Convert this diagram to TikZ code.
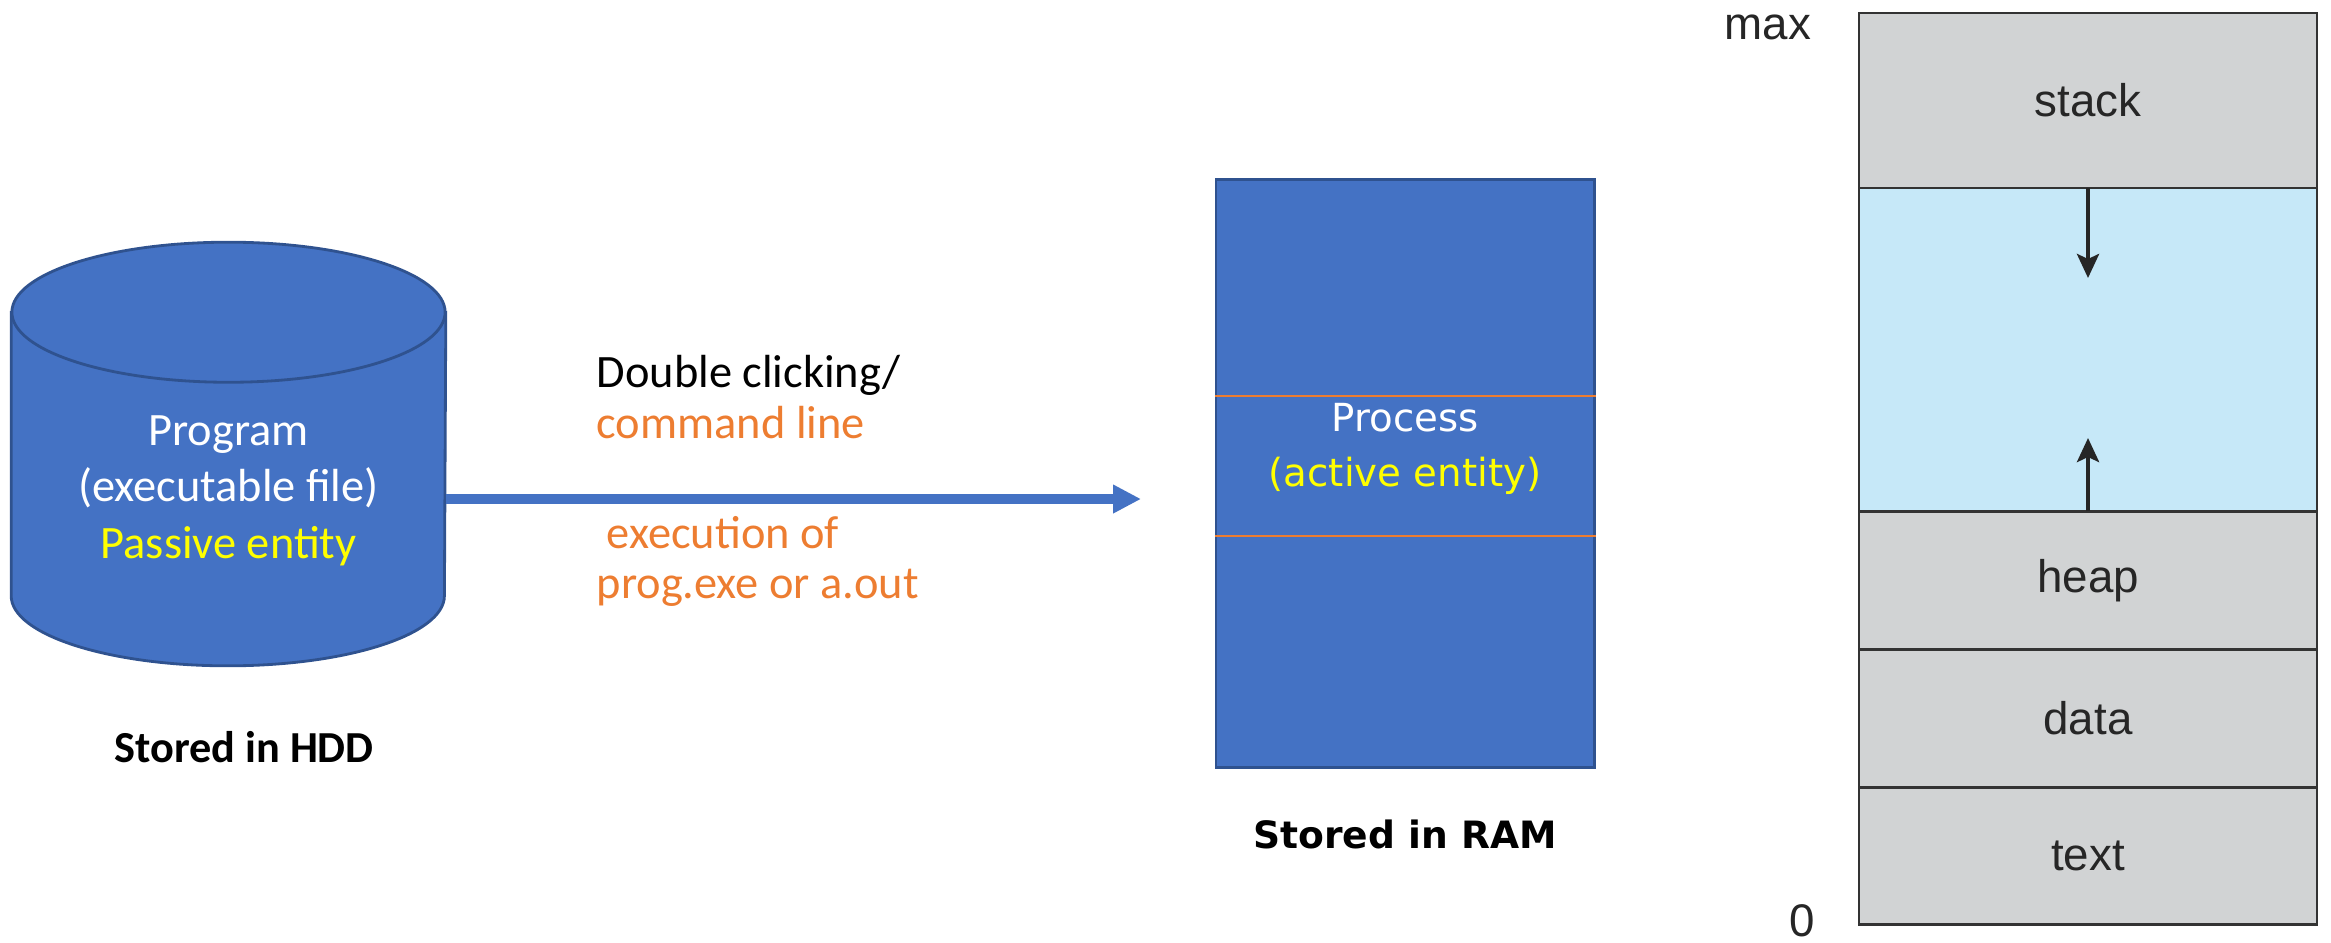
\documentclass[tikz,border=0pt]{standalone}
\usepackage{fontspec}
\usepackage{xcolor}
\usetikzlibrary{calc,positioning,arrows.meta}

\newfontfamily\calib{Carlito}
\newfontfamily\verda{DejaVu Sans}
\newfontfamily\helv{Liberation Sans}

\definecolor{pptblue}{HTML}{4472C4}
\definecolor{pptdark}{HTML}{2F528F}
\definecolor{pptorange}{HTML}{ED7D31}
\definecolor{pptyellow}{HTML}{FFFF00}
\definecolor{memgray}{HTML}{D1D3D4}
\definecolor{memblue}{HTML}{C6E8F8}
\definecolor{memline}{HTML}{333333}

\tikzset{
  txt/.style={inner sep=0pt, anchor=base},
  lbl/.style={inner sep=0pt, anchor=base west, font=\calib\fontsize{13.2}{15.5}\selectfont},
  disk/.style={fill=pptblue, draw=pptdark, line width=0.8pt},
  ramblock/.style={fill=pptblue, draw=pptdark, line width=0.8pt, minimum width=3.78cm, minimum height=5.87cm, inner sep=0pt},
  flow/.style={draw=pptblue, line width=3pt, -{Triangle[length=2.8mm,width=2.7mm]}},
  seg/.style={draw=memline, line width=0.75pt, fill=memgray, minimum width=4.58cm, inner sep=0pt, outer sep=0pt, font=\helv\fontsize{13}{15}\selectfont, text=black!85},
  growarrow/.style={draw=black!85, line width=1.2pt, -{Stealth[length=2.4mm,width=2.2mm,inset=0.5mm]}},
  axis/.style={inner sep=0pt, font=\helv\fontsize{13}{15}\selectfont, text=black!85}
}

\begin{document}
\begin{tikzpicture}[x=0.01cm,y=0.01cm]
  \useasboundingbox (0,0) rectangle (2331,-942);

  %program on the disk
  \node[minimum width=4.33cm, minimum height=2.82cm, inner sep=0pt] (hdd) at (228.5,-454) {};
  \filldraw[disk] (hdd.north west) -- (hdd.south west)
     arc[start angle=180, end angle=360, x radius=2.165cm, y radius=0.7cm] -- (hdd.north east) -- cycle;
  \filldraw[disk] (hdd.north) ellipse[x radius=2.165cm, y radius=0.7cm];
  \node[txt, align=center, text=white, font=\calib\fontsize{13.2}{16}\selectfont] (prog) at (228.5,-558)
     {Program\\(executable file)\\\textcolor{pptyellow}{Passive entity}};
  \node[txt, font=\calib\bfseries\fontsize{12.6}{15}\selectfont] (hddlbl) at (244,-762) {Stored in HDD};

  %process in memory
  \node[ramblock] (ram) at (1405,-473.5) {};
  \draw[pptorange, line width=0.6pt] (ram.west |- 0,-396) -- (ram.east |- 0,-396);
  \draw[pptorange, line width=0.6pt] (ram.west |- 0,-536) -- (ram.east |- 0,-536);
  \node[txt, align=center, text=white, font=\verda\fontsize{11}{15.4}\selectfont] (proc) at (1405,-486)
     {Process\\\textcolor{pptyellow}{(active entity)}};
  \node[txt, font=\verda\bfseries\fontsize{10.7}{13}\selectfont] (ramlbl) at (1405,-848) {Stored in RAM};

  %loading
  \coordinate (arrE) at (1141,-499);
  \draw[flow] (hdd.east |- arrE) -- (arrE);
  \node[lbl] (dbl) at (596,-387) {Double clicking/};
  \node[lbl, text=pptorange] (cmd) at (596,-438) {command line};
  \node[lbl, text=pptorange] (exe) at (606,-548) {execution of};
  \node[lbl, text=pptorange] (aout) at (596,-598) {prog.exe or a.out};

  %address space
  \node[seg, minimum height=1.75cm] (stk) at (2088,-100.5) {stack};
  \node[seg, fill=memblue, minimum height=3.23cm, below=0pt of stk] (free) {};
  \node[seg, minimum height=1.38cm, below=0pt of free] (heap) {heap};
  \node[seg, minimum height=1.38cm, below=0pt of heap] (data) {data};
  \node[seg, minimum height=1.37cm, below=0pt of data] (text) {text};
  \coordinate (stkTip) at (2088,-278);
  \coordinate (hpTip) at (2088,-438);
  \draw[growarrow] (stk.south) -- (stkTip);
  \draw[growarrow] (free.south) -- (hpTip);
  \node[axis] (mx) at (1768,-27) {max};
  \node[axis] (zr) at (1802,-921) {0};
\end{tikzpicture}
\end{document}
